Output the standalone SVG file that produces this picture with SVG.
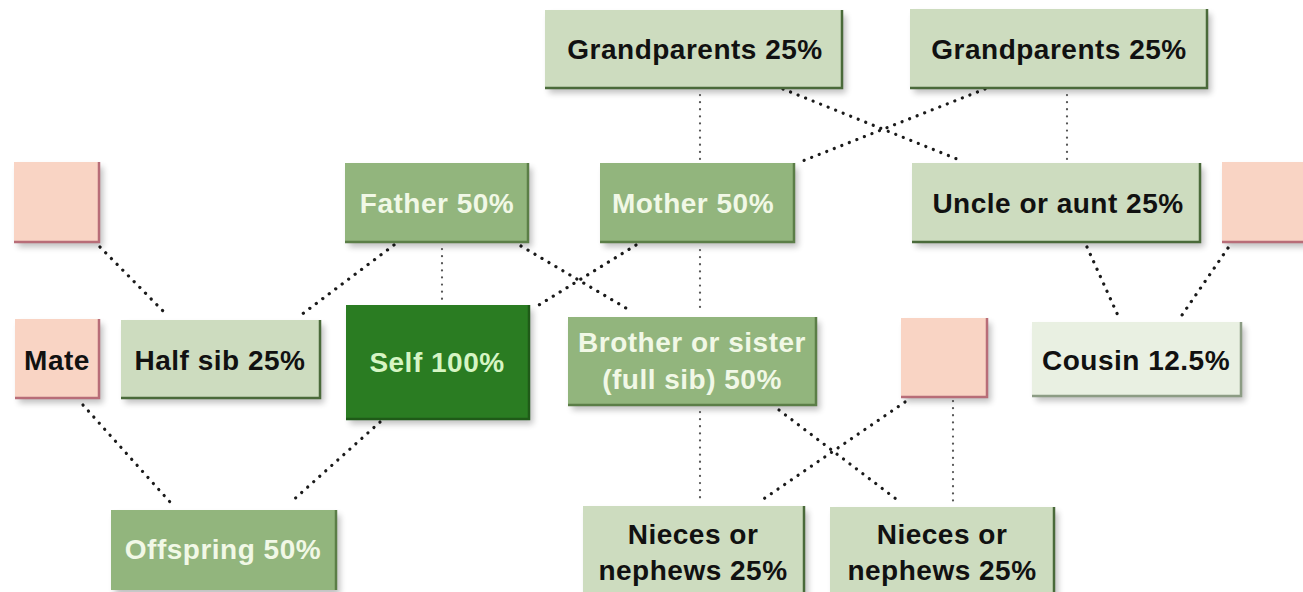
<svg xmlns="http://www.w3.org/2000/svg" width="1303" height="592" viewBox="0 0 1303 592">
<defs>
<filter id="sh" x="-10%" y="-10%" width="130%" height="140%">
<feGaussianBlur in="SourceAlpha" stdDeviation="3"/>
<feOffset dx="4" dy="5" result="b"/>
<feComponentTransfer><feFuncA type="linear" slope="0.25"/></feComponentTransfer>
<feMerge><feMergeNode/><feMergeNode in="SourceGraphic"/></feMerge>
</filter>
</defs>
<style>
.lg{fill:#cddcbf}
.mg{fill:#92b57d}
.dg{fill:#2a7b22}
.cz{fill:#e9f0e2}
.pk{fill:#f9d4c4}
.elg{fill:none;stroke:#4a6a3a;stroke-width:2.5}
.emg{fill:none;stroke:#5b7e47;stroke-width:2.5}
.edg{fill:none;stroke:#1f5a18;stroke-width:2.5}
.ecz{fill:none;stroke:#8c9c84;stroke-width:2.5}
.epk{fill:none;stroke:#b86d78;stroke-width:2.5}
text{font-family:"Liberation Sans",Arial,sans-serif;font-weight:bold;font-size:28px;letter-spacing:0.5px;text-anchor:middle;dominant-baseline:central}
.tb{fill:#111}
.tw{fill:#f1f8e6}
.ts{fill:#d6f5c4}
.c line{stroke:#1a1a1a;stroke-width:3.2;stroke-dasharray:0.1 8;stroke-linecap:round}
.c line.v{stroke:#555;stroke-width:2.2;stroke-dasharray:0.1 7}
</style>
<g class="c" id="connectors">
<line class="v" x1="700" y1="95" x2="700" y2="160"/>
<line x1="783" y1="89" x2="957" y2="159"/>
<line x1="985" y1="89" x2="800" y2="162"/>
<line class="v" x1="1067" y1="95" x2="1067" y2="160"/>
<line x1="100" y1="247" x2="166" y2="314"/>
<line x1="394" y1="245" x2="297" y2="318"/>
<line class="v" x1="442" y1="249" x2="442" y2="300"/>
<line x1="521" y1="246" x2="631" y2="311"/>
<line x1="636" y1="245" x2="534" y2="308"/>
<line class="v" x1="700" y1="250" x2="700" y2="312"/>
<line x1="1087" y1="247" x2="1120" y2="320"/>
<line x1="1228" y1="248" x2="1180" y2="318"/>
<line x1="83" y1="405" x2="170" y2="502"/>
<line x1="380" y1="422" x2="290" y2="503"/>
<line class="v" x1="700" y1="412" x2="700" y2="500"/>
<line x1="779" y1="410" x2="900" y2="502"/>
<line x1="905" y1="402" x2="762" y2="500"/>
<line class="v" x1="953" y1="401" x2="953" y2="503"/>
</g>
<g id="grandparents1"><rect class="lg" x="545" y="10" width="297" height="78" filter="url(#sh)"/><polyline class="elg" points="545,88 842,88 842,10"/><text class="tb" x="695" y="49">Grandparents 25%</text></g>
<g id="grandparents2"><rect class="lg" x="910" y="9" width="297" height="79" filter="url(#sh)"/><polyline class="elg" points="910,88 1207,88 1207,9"/><text class="tb" x="1059" y="49">Grandparents 25%</text></g>
<g id="mate-left-top"><rect class="pk" x="14" y="162" width="85" height="80" filter="url(#sh)"/><polyline class="epk" points="14,242 99,242 99,162"/></g>
<g id="father"><rect class="mg" x="345" y="163" width="183" height="79" filter="url(#sh)"/><polyline class="emg" points="345,242 528,242 528,163"/><text class="tw" x="437" y="203">Father 50%</text></g>
<g id="mother"><rect class="mg" x="600" y="163" width="194" height="79" filter="url(#sh)"/><polyline class="emg" points="600,242 794,242 794,163"/><text class="tw" x="693" y="203">Mother 50%</text></g>
<g id="uncle"><rect class="lg" x="912" y="163" width="288" height="79" filter="url(#sh)"/><polyline class="elg" points="912,242 1200,242 1200,163"/><text class="tb" x="1058" y="203">Uncle or aunt 25%</text></g>
<g id="mate-right-top"><rect class="pk" x="1222" y="162" width="90" height="80" filter="url(#sh)"/><polyline class="epk" points="1222,242 1310,242"/></g>
<g id="mate"><rect class="pk" x="15" y="319" width="84" height="79" filter="url(#sh)"/><polyline class="epk" points="15,398 99,398 99,319"/><text class="tb" x="57" y="360">Mate</text></g>
<g id="halfsib"><rect class="lg" x="121" y="320" width="199" height="78" filter="url(#sh)"/><polyline class="elg" points="121,398 320,398 320,320"/><text class="tb" x="220" y="360">Half sib 25%</text></g>
<g id="self"><rect class="dg" x="346" y="305" width="183" height="114" filter="url(#sh)"/><polyline class="edg" points="346,419 529,419 529,305"/><text class="ts" x="437" y="362">Self 100%</text></g>
<g id="brother"><rect class="mg" x="568" y="317" width="248" height="88" filter="url(#sh)"/><polyline class="emg" points="568,405 816,405 816,317"/><text class="tw" x="692" y="342">Brother or sister</text><text class="tw" x="692" y="379">(full sib) 50%</text></g>
<g id="mate-mid"><rect class="pk" x="901" y="318" width="86" height="79" filter="url(#sh)"/><polyline class="epk" points="901,397 987,397 987,318"/></g>
<g id="cousin"><rect class="cz" x="1032" y="322" width="209" height="74" filter="url(#sh)"/><polyline class="ecz" points="1032,396 1241,396 1241,322"/><text class="tb" x="1136" y="360">Cousin 12.5%</text></g>
<g id="offspring"><rect class="mg" x="111" y="510" width="225" height="80" filter="url(#sh)"/><polyline class="emg" points="336,510 336,590"/><text class="tw" x="223" y="549">Offspring 50%</text></g>
<g id="nieces1"><rect class="lg" x="583" y="506" width="221" height="92" filter="url(#sh)"/><polyline class="elg" points="804,506 804,598"/><text class="tb" x="693" y="534">Nieces or</text><text class="tb" x="693" y="570">nephews 25%</text></g>
<g id="nieces2"><rect class="lg" x="830" y="507" width="224" height="91" filter="url(#sh)"/><polyline class="elg" points="1054,507 1054,598"/><text class="tb" x="942" y="534">Nieces or</text><text class="tb" x="942" y="570">nephews 25%</text></g>
</svg>
